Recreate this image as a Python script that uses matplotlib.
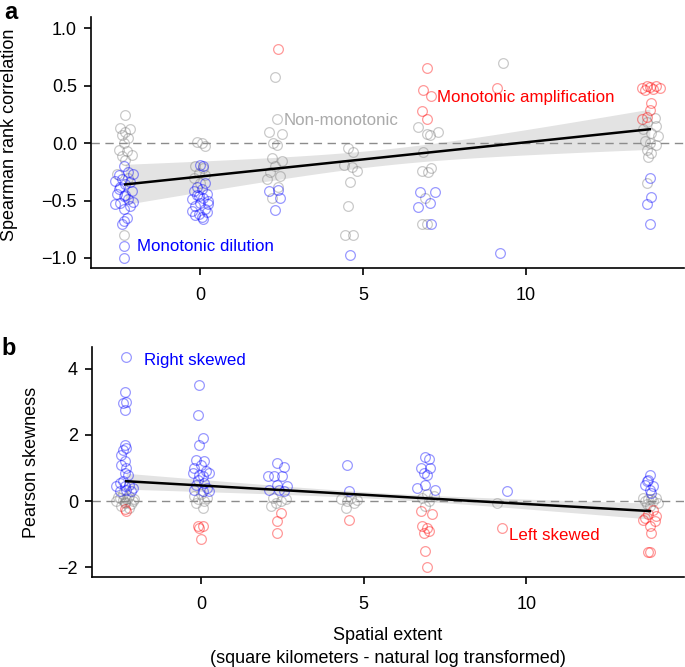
import matplotlib
matplotlib.use("Agg")
import matplotlib.pyplot as plt
import numpy as np
from matplotlib.ticker import FuncFormatter

plt.rcParams['font.family'] = ['Liberation Sans', 'DejaVu Sans']

# panel a: Spearman rank correlation, points as (x, y)
a_gray = [(-2.3, 0.24), (-2.45, 0.13), (-2.15, 0.12), (-2.3, 0.10), (-2.4, 0.07), (-2.2, 0.04),
          (-2.35, 0.0), (-2.5, -0.06), (-2.25, -0.07), (-2.1, -0.10), (-2.4, -0.11), (-2.3, -0.15),
          (-2.55, -0.27), (-2.2, -0.30), (-2.35, -0.80),
          (-0.1, 0.01), (0.05, 0.0), (0.15, -0.03), (-0.15, -0.20), (0.1, -0.22), (-0.05, -0.26),
          (0.15, -0.28), (-0.2, -0.30), (0.0, -0.35),
          (2.3, 0.57), (2.35, 0.21), (2.1, 0.10), (2.5, 0.08), (2.25, 0.0), (2.35, -0.02),
          (2.2, -0.13), (2.5, -0.16), (2.3, -0.20), (2.15, -0.25), (2.45, -0.29), (2.05, -0.31),
          (2.2, -0.48), (2.4, -0.38),
          (4.55, -0.04), (4.7, -0.08), (4.4, -0.19), (4.65, -0.21), (4.8, -0.24), (4.6, -0.34),
          (4.55, -0.55), (4.45, -0.80), (4.7, -0.80),
          (6.7, 0.14), (6.95, 0.08), (7.05, 0.07), (7.3, 0.10), (6.85, -0.08), (6.8, -0.24),
          (7.0, -0.25), (7.1, -0.22), (6.9, -0.48), (6.8, -0.70), (6.95, -0.70),
          (9.3, 0.70),
          (13.95, 0.22), (13.7, 0.18), (14.0, 0.15), (13.6, 0.12), (13.85, 0.09), (14.05, 0.06),
          (13.65, 0.02), (13.8, 0.0), (14.0, -0.02), (13.7, -0.06), (13.85, -0.09), (13.75, -0.12),
          (13.7, -0.35)]
a_blue = [(-2.35, -0.20), (-2.2, -0.25), (-2.5, -0.28), (-2.05, -0.27), (-2.4, -0.31), (-2.6, -0.33),
          (-2.15, -0.34), (-2.3, -0.36), (-2.5, -0.40), (-2.1, -0.42), (-2.55, -0.44), (-2.35, -0.46),
          (-2.2, -0.49), (-2.45, -0.52), (-2.6, -0.53), (-2.15, -0.55), (-2.35, -0.57), (-2.05, -0.51),
          (-2.3, -0.45), (-2.45, -0.38), (-2.25, -0.65), (-2.35, -0.68), (-2.4, -0.70), (-2.35, -0.90),
          (-2.35, -1.00),
          (0.0, -0.19), (0.1, -0.20), (0.15, -0.35), (-0.1, -0.38), (0.05, -0.40), (-0.2, -0.42),
          (0.2, -0.44), (-0.05, -0.46), (0.1, -0.48), (-0.25, -0.49), (0.25, -0.50), (0.0, -0.52),
          (-0.15, -0.55), (0.15, -0.57), (-0.25, -0.59), (0.2, -0.60), (-0.05, -0.62), (0.05, -0.64),
          (-0.15, -0.63), (0.1, -0.66), (-0.1, -0.45), (0.25, -0.53),
          (2.1, -0.42), (2.4, -0.41), (2.45, -0.48), (2.3, -0.58),
          (4.6, -0.97),
          (6.75, -0.43), (7.2, -0.43), (7.05, -0.52), (6.7, -0.56), (7.1, -0.70),
          (9.2, -0.96),
          (13.8, -0.30), (13.85, -0.47), (13.7, -0.53), (13.8, -0.70)]
a_red = [(2.4, 0.82),
         (6.95, 0.65), (6.85, 0.46), (7.1, 0.41), (6.8, 0.28), (6.95, 0.21),
         (9.1, 0.48),
         (13.55, 0.48), (13.7, 0.50), (13.8, 0.49), (13.9, 0.47), (14.0, 0.50), (13.65, 0.46),
         (14.1, 0.48), (13.85, 0.35), (13.8, 0.29), (13.7, 0.23), (13.55, 0.21)]

# panel b: Pearson skewness
b_gray = [(-2.4, 0.2), (-2.2, 0.15), (-2.5, 0.1), (-2.3, 0.05), (-2.1, 0.0), (-2.6, 0.0),
          (-2.35, -0.05), (-2.15, -0.1), (-2.45, -0.15), (-2.25, 0.08), (-2.55, 0.12), (-2.05, 0.05),
          (-2.35, -0.02), (-2.2, -0.2), (-2.4, 0.03),
          (0.0, 0.2), (-0.2, 0.15), (0.2, 0.1), (-0.1, 0.05), (0.1, 0.0), (-0.15, -0.05), (0.05, -0.2),
          (2.2, 0.1), (2.45, 0.0), (2.3, -0.05), (2.15, -0.15), (2.6, 0.05),
          (4.3, 0.05), (4.5, 0.0), (4.7, -0.05), (4.6, 0.1), (4.45, -0.2), (4.8, 0.02),
          (6.95, 0.2), (6.8, 0.1), (7.0, 0.0), (6.9, -0.15), (7.15, 0.15),
          (9.1, -0.07),
          (13.6, 0.1), (13.75, 0.05), (13.9, 0.0), (14.05, -0.05), (13.65, 0.0), (13.85, 0.05),
          (13.7, -0.1), (14.0, 0.1), (13.8, -0.15)]
b_blue = [(-2.3, 4.35), (-2.35, 3.3), (-2.3, 3.0), (-2.4, 2.95), (-2.35, 2.75), (-2.35, 1.7),
          (-2.3, 1.6), (-2.4, 1.55), (-2.45, 1.4), (-2.35, 1.2), (-2.45, 1.1), (-2.3, 1.0),
          (-2.35, 0.85), (-2.25, 0.78), (-2.5, 0.55), (-2.2, 0.5), (-2.6, 0.45), (-2.4, 0.6),
          (-2.1, 0.4), (-2.3, 0.33), (-2.5, 0.3), (-2.15, 0.3), (-2.35, 0.45),
          (-0.05, 3.5), (-0.1, 2.6), (0.05, 1.9), (-0.05, 1.7), (-0.15, 1.25), (0.1, 1.2), (0.0, 1.1),
          (-0.2, 1.0), (0.15, 0.9), (-0.25, 0.85), (0.25, 0.85), (0.05, 0.75), (-0.1, 0.65),
          (0.1, 0.55), (-0.15, 0.5), (0.2, 0.4), (-0.2, 0.35), (0.05, 0.3), (0.25, 0.3), (-0.05, 0.8),
          (2.35, 1.15), (2.55, 1.02), (2.05, 0.75), (2.25, 0.75), (2.5, 0.75), (2.35, 0.48),
          (2.65, 0.45), (2.1, 0.33), (2.55, 0.30), (2.4, 0.35),
          (4.5, 1.1), (4.55, 0.32),
          (6.9, 1.32), (7.0, 1.28), (6.75, 1.0), (7.05, 1.0), (6.85, 0.85), (6.95, 0.8),
          (6.65, 0.4), (7.2, 0.35), (6.9, 0.5),
          (9.4, 0.3),
          (13.8, 0.78), (13.75, 0.65), (13.65, 0.5), (13.9, 0.45), (13.8, 0.35), (13.85, 0.25),
          (13.7, 0.6)]
b_red = [(-2.35, -0.25), (-2.3, -0.3),
         (-0.1, -0.75), (0.05, -0.75), (-0.05, -0.8), (0.0, -1.15),
         (2.45, -0.35), (2.35, -0.6), (2.35, -0.95),
         (4.55, -0.58),
         (6.75, -0.3), (7.1, -0.4), (6.8, -0.75), (6.95, -0.8), (7.0, -0.9), (6.85, -0.95),
         (6.9, -1.5), (6.95, -2.0),
         (9.25, -0.8),
         (13.9, -0.28), (13.75, -0.4), (13.6, -0.58), (13.95, -0.6), (13.8, -0.75), (13.85, -0.95),
         (13.75, -1.55), (13.8, -1.55), (14.0, -0.45), (13.65, -0.5)]

# fitted lines: (intercept, slope) and band half-width (narrowest, at ends)
x_fit_range = (-2.3, 13.8)
a_fit = (-0.2915, 0.0298)
a_band = (0.07, 0.175)
b_fit = (0.4714, -0.0559)
b_band = (0.09, 0.24)

col_gray = (0.5, 0.5, 0.5, 0.42)
col_blue = (0.0, 0.0, 1.0, 0.4)
col_red = (1.0, 0.0, 0.0, 0.4)

fig = plt.figure(figsize=(6.85, 6.67), dpi=100)
ax_a = fig.add_axes([91/685, 1-268/667, 593/685, 251/667])
ax_b = fig.add_axes([92/685, 1-577/667, 592/685, 230/667])


def minus_fmt(fmt):
    return FuncFormatter(lambda v, p: fmt.format(v).replace('-', '\u2212'))


def draw_panel(ax, gray, blue, red, fit, band):
    xs = np.linspace(x_fit_range[0], x_fit_range[1], 100)
    xm = (x_fit_range[0] + x_fit_range[1]) / 2
    half = (x_fit_range[1] - x_fit_range[0]) / 2
    h = np.sqrt(band[0]**2 + (band[1]**2 - band[0]**2) * ((xs - xm) / half)**2)
    yfit = fit[0] + fit[1] * xs
    ax.fill_between(xs, yfit - h, yfit + h, color='#e3e3e3', lw=0, zorder=1)
    ax.axhline(0, color='#8c8c8c', lw=1, dashes=(6, 4), zorder=2)
    for pts, c in [(gray, col_gray), (blue, col_blue), (red, col_red)]:
        x, y = zip(*pts)
        ax.plot(x, y, 'o', ms=7, mfc='none', mec=c, mew=0.9, zorder=3)
    ax.plot(xs, yfit, color='black', lw=1.8, zorder=4)
    ax.set_xlim(-3.35, 14.85)
    ax.set_xticks([0, 5, 10])
    for s in ['top', 'right']:
        ax.spines[s].set_visible(False)
    for s in ['left', 'bottom']:
        ax.spines[s].set_linewidth(1.2)
    ax.tick_params(direction='out', length=5, width=1.2, labelsize=13)
    ax.tick_params(axis='x', pad=9)
    ax.tick_params(axis='y', pad=5)


draw_panel(ax_a, a_gray, a_blue, a_red, a_fit, a_band)
ax_a.set_ylim(-1.087, 1.096)
ax_a.set_yticks([-1.0, -0.5, 0.0, 0.5, 1.0])
ax_a.yaxis.set_major_formatter(minus_fmt('{:.1f}'))
ax_a.set_ylabel('Spearman rank correlation', fontsize=13)
ax_a.yaxis.set_label_coords(-0.123, 0.53)
ax_a.text(-1.93, -0.90, 'Monotonic dilution', color='#0000ff', fontsize=12.2, va='center')
ax_a.text(2.55, 0.20, 'Non-monotonic', color='#aaaaaa', fontsize=12.2, va='center')
ax_a.text(7.27, 0.40, 'Monotonic amplification', color='#ff0000', fontsize=12.2, va='center')

draw_panel(ax_b, b_gray, b_blue, b_red, b_fit, b_band)
ax_b.set_ylim(-2.29, 4.65)
ax_b.set_yticks([-2, 0, 2, 4])
ax_b.yaxis.set_major_formatter(minus_fmt('{:.0f}'))
ax_b.set_ylabel('Pearson skewness', fontsize=13)
ax_b.yaxis.set_label_coords(-0.088, 0.5)
ax_b.text(-1.75, 4.25, 'Right skewed', color='#0000ff', fontsize=12.2, va='center')
ax_b.text(9.48, -1.03, 'Left skewed', color='#ff0000', fontsize=12.2, va='center')
ax_b.set_xlabel('Spatial extent\n(square kilometers - natural log transformed)',
                fontsize=13, linespacing=1.4, labelpad=10)

fig.text(4/685, 1-19/667, 'a', fontsize=17, fontweight='bold', va='baseline')
fig.text(1/685, 1-355/667, 'b', fontsize=17, fontweight='bold', va='baseline')

fig.savefig('out.png', dpi=100)
